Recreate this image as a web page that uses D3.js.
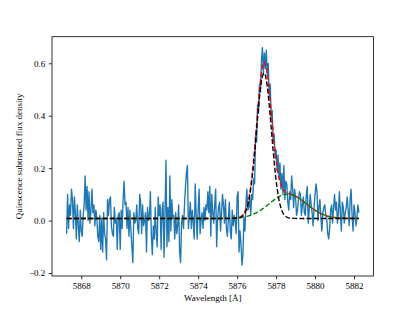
<!DOCTYPE html>
<html>
<head>
<meta charset="utf-8">
<title>Quiescence subtracted flux density</title>
<style>
  body { margin: 0; background: #fff; }
  text { font-family: "Liberation Serif", "DejaVu Serif", serif; fill: #000; }
  .axis line { stroke: #000; stroke-width: 0.8; }
  .axis text { font-size: 9px; }
  .label { font-size: 9px; }
</style>
<script src="https://cdn.jsdelivr.net/npm/d3@7"></script>
</head>
<body>
<script>
// spectrum samples, evenly spaced in wavelength
var waveStart = 5867.25;
var waveStep = 0.05;
var flux = [
  -0.05, 0.10, -0.03, 0.06, 0.02, 0.12, 0.08, -0.03, 0.09, 0.03,
  -0.07, 0.06, -0.02, -0.08, 0.04, -0.04, -0.06, 0.02, 0.06, 0.17,
  0.04, 0.13, 0.00, 0.11, -0.01, 0.04, 0.12, 0.03, 0.06, -0.02,
  0.04, 0.01, -0.06, -0.08, 0.02, -0.11, 0.01, -0.12, 0.03, -0.05,
  -0.07, -0.15, 0.08, 0.02, 0.08, 0.09, -0.02,
  -0.05, -0.06, 0.05, -0.01, 0.01, -0.11, 0.02, 0.03, -0.11, 0.04,
  -0.03, 0.08, 0.15, 0.06, 0.07, -0.03, 0.05, -0.06, 0.04, -0.04,
  -0.10, -0.16, 0.03, -0.01, 0.00, 0.06, -0.03, -0.05, 0.10, 0.07,
  -0.05, 0.06, -0.02, 0.00, 0.03, -0.12, 0.05, 0.00, 0.02, 0.11,
  -0.06, -0.13, -0.02, -0.07, 0.05, -0.05, -0.10, 0.09, 0.02,
  0.06, -0.11, 0.04, 0.07, -0.14, 0.03, 0.23, -0.10, 0.05, -0.08,
  0.17, -0.04, 0.08, 0.01, 0.02, -0.07, 0.03, -0.05, -0.02, 0.06,
  -0.12, -0.16, -0.01, 0.02, -0.03, 0.06, 0.13, 0.18, 0.21, -0.03,
  0.02, 0.07, -0.03, 0.04, -0.01, -0.07, 0.14, 0.02, -0.07, 0.04,
  0.12, -0.05, 0.00, 0.03, -0.03, 0.05, 0.00, 0.06, 0.04,
  0.11, 0.03, 0.13, -0.06, 0.10, 0.03, -0.01, 0.06, 0.12, -0.10,
  0.01, 0.05, 0.07, -0.04, 0.03, 0.10, 0.06, -0.01, 0.08, -0.03,
  -0.06, 0.00, 0.07, -0.04, -0.07, 0.04, -0.02, 0.02, 0.00, -0.05,
  0.09, 0.11, -0.12, -0.04, -0.09, -0.17, -0.13, 0.01, -0.04, 0.06,
  0.12, 0.04, 0.05, 0.09, 0.02, 0.10, 0.08, 0.16, 0.14,
  0.33, 0.30, 0.44, 0.41, 0.52, 0.49, 0.61, 0.66, 0.56, 0.64,
  0.58, 0.65, 0.55, 0.60, 0.47, 0.52, 0.39, 0.42, 0.30, 0.33,
  0.24, 0.27, 0.19, 0.25, 0.16, 0.22, 0.12, 0.18, 0.10, 0.21,
  0.08, 0.15,
  0.14, 0.07, 0.04, 0.11, 0.08, 0.17, 0.12, 0.05, 0.12, 0.09,
  0.02, 0.04, 0.08, 0.11, 0.10, 0.02, 0.06, 0.09, 0.03, 0.02,
  0.10, 0.13, -0.01, 0.04, 0.10, 0.06, 0.03, -0.02, 0.05, 0.10,
  0.14, 0.11, 0.00, 0.05, 0.08, 0.01, -0.04, 0.03, 0.05, 0.06,
  0.02, 0.01, -0.05, -0.07, -0.03, 0.04, 0.06, -0.01, 0.05, 0.10,
  0.04, 0.07, -0.01, 0.03, 0.11, 0.03, -0.04, 0.07, 0.05, -0.01,
  0.03, 0.05, 0.09, 0.04, -0.02, 0.08, 0.12, 0.02, -0.04, 0.06,
  0.03, -0.02, 0.01, 0.06, 0.03
];

// fitted model curves, sampled finer around the line
var modelWave = [
  5867.25, 5868, 5869, 5870, 5871, 5872, 5873, 5874, 5875, 5875.5,
  5876.0, 5876.1, 5876.2, 5876.3, 5876.4, 5876.5, 5876.6, 5876.7, 5876.8, 5876.9,
  5877.0, 5877.1, 5877.2, 5877.3, 5877.4, 5877.5, 5877.6, 5877.7, 5877.8, 5877.9,
  5878.0, 5878.1, 5878.2, 5878.3, 5878.4, 5878.5, 5878.6, 5878.7, 5878.8, 5878.9,
  5879.0, 5879.25, 5879.5, 5879.75, 5880.0, 5880.25, 5880.5, 5880.75, 5881.0, 5881.25,
  5881.5, 5881.75, 5882.0, 5882.25
];
var modelTotal = [
  0.008, 0.008, 0.008, 0.008, 0.008, 0.008, 0.008, 0.008, 0.008, 0.0085,
  0.0110, 0.0128, 0.0163, 0.0228, 0.0344, 0.0541, 0.0856, 0.1325, 0.1966, 0.2767,
  0.3671, 0.4578, 0.5355, 0.5873, 0.6041, 0.5836, 0.5308, 0.4567, 0.3745, 0.2965,
  0.2308, 0.1812, 0.1472, 0.1261, 0.1141, 0.1077, 0.1042, 0.1018, 0.0994, 0.0967,
  0.0932, 0.0816, 0.0674, 0.0527, 0.0394, 0.0286, 0.0206, 0.0152, 0.0118, 0.0099,
  0.0089, 0.0084, 0.0082, 0.0081
];
var modelNarrow = [
  0.008, 0.008, 0.008, 0.008, 0.008, 0.008, 0.008, 0.008, 0.008, 0.008,
  0.0088, 0.0099, 0.0125, 0.0178, 0.0280, 0.0460, 0.0755, 0.1199, 0.1812, 0.2579,
  0.3446, 0.4311, 0.5041, 0.5508, 0.5622, 0.5360, 0.4774, 0.3973, 0.3093, 0.2256,
  0.1546, 0.1002, 0.0621, 0.0376, 0.0231, 0.0152, 0.0112, 0.0093, 0.0085, 0.0082,
  0.0081, 0.008, 0.008, 0.008, 0.008, 0.008, 0.008, 0.008, 0.008, 0.008,
  0.008, 0.008, 0.008, 0.008
];
var modelBroad = [
  0.008, 0.008, 0.008, 0.008, 0.008, 0.008, 0.008, 0.008, 0.008, 0.0085,
  0.0102, 0.0109, 0.0118, 0.0130, 0.0144, 0.0161, 0.0181, 0.0206, 0.0234, 0.0268,
  0.0305, 0.0347, 0.0394, 0.0445, 0.0499, 0.0556, 0.0614, 0.0674, 0.0732, 0.0789,
  0.0842, 0.0890, 0.0931, 0.0965, 0.0989, 0.1005, 0.1010, 0.1005, 0.0989, 0.0965,
  0.0931, 0.0816, 0.0674, 0.0527, 0.0394, 0.0286, 0.0206, 0.0152, 0.0118, 0.0099,
  0.0089, 0.0084, 0.0082, 0.0081
];

var xTicks = [5868, 5870, 5872, 5874, 5876, 5878, 5880, 5882];
var yTicks = [-0.2, 0.0, 0.2, 0.4, 0.6];

var width = 415, height = 311;
var margin = {left: 52, right: 41.5, top: 36.7, bottom: 35};

var svg = d3.select("body").append("svg")
    .attr("width", width)
    .attr("height", height);

var spectrum = flux.map(function(v, i) { return {x: waveStart + i * waveStep, y: v}; });

// matplotlib style 5% margins around the data
var xExt = d3.extent(spectrum, function(d) { return d.x; });
var yExt = d3.extent(spectrum, function(d) { return d.y; });
var xPad = (xExt[1] - xExt[0]) * 0.05, yPad = (yExt[1] - yExt[0]) * 0.05;

var x = d3.scaleLinear()
    .domain([xExt[0] - xPad, xExt[1] + xPad])
    .range([margin.left, width - margin.right]);
var y = d3.scaleLinear()
    .domain([yExt[0] - yPad, yExt[1] + yPad])
    .range([height - margin.bottom, margin.top]);

var line = d3.line()
    .x(function(d) { return x(d.x); })
    .y(function(d) { return y(d.y); });

var smooth = d3.line()
    .x(function(d) { return x(d.x); })
    .y(function(d) { return y(d.y); })
    .curve(d3.curveMonotoneX);

function model(vals) {
  return modelWave.map(function(w, i) { return {x: w, y: vals[i]}; });
}

svg.append("path")
    .datum(spectrum)
    .attr("d", line)
    .attr("fill", "none")
    .attr("stroke", "#1f77b4")
    .attr("stroke-width", 1.35)
    .attr("stroke-linejoin", "round");

// total fit, broad component, then narrow component on top
var dash = "5,2.2";
[[modelTotal, "#ff0000"], [modelBroad, "#008000"], [modelNarrow, "#000000"]].forEach(function(m) {
  svg.append("path")
      .datum(model(m[0]))
      .attr("d", smooth)
      .attr("fill", "none")
      .attr("stroke", m[1])
      .attr("stroke-width", 1.35)
      .attr("stroke-dasharray", dash);
});

var xAxis = svg.append("g")
    .attr("class", "axis")
    .attr("transform", "translate(0," + (height - margin.bottom) + ")")
    .call(d3.axisBottom(x).tickValues(xTicks).tickSize(3.2).tickPadding(3.2).tickFormat(d3.format("d")));
xAxis.select(".domain").remove();

var yAxis = svg.append("g")
    .attr("class", "axis")
    .attr("transform", "translate(" + margin.left + ",0)")
    .call(d3.axisLeft(y).tickValues(yTicks).tickSize(3.2).tickPadding(3.5).tickFormat(d3.format(".1f")));
yAxis.select(".domain").remove();

svg.selectAll(".axis text").attr("font-family", null);

// frame
svg.append("rect")
    .attr("x", margin.left)
    .attr("y", margin.top)
    .attr("width", width - margin.left - margin.right)
    .attr("height", height - margin.top - margin.bottom)
    .attr("fill", "none")
    .attr("stroke", "#000")
    .attr("stroke-width", 0.8);

svg.append("text")
    .attr("class", "label")
    .attr("x", (margin.left + width - margin.right) / 2)
    .attr("y", 301)
    .attr("text-anchor", "middle")
    .text("Wavelength [Å]");

svg.append("text")
    .attr("class", "label")
    .attr("transform", "translate(21.5," + ((margin.top + height - margin.bottom) / 2) + ") rotate(-90)")
    .attr("text-anchor", "middle")
    .text("Quiescence subtracted flux density");
</script>
</body>
</html>
